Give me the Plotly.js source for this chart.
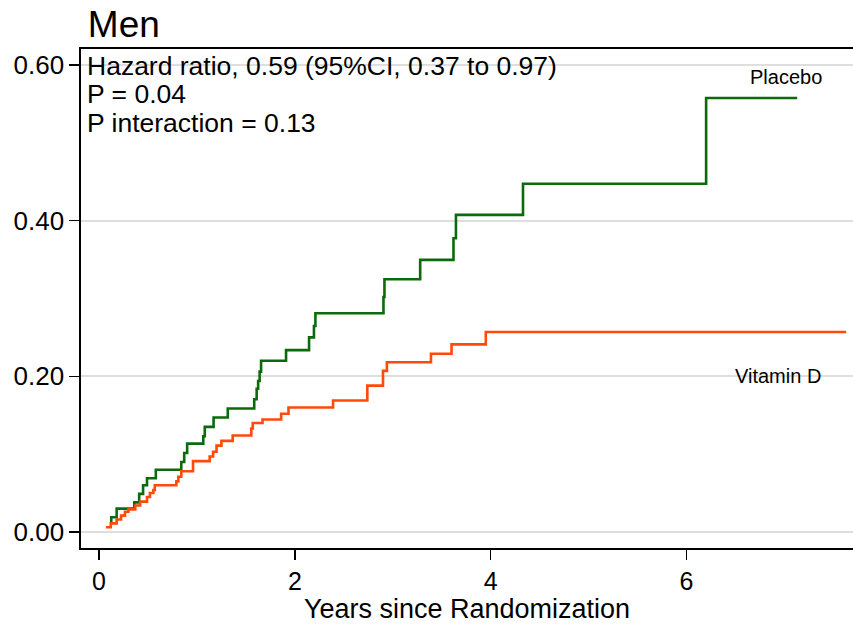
<!DOCTYPE html>
<html>
<head>
<meta charset="utf-8">
<script src="https://cdn.plot.ly/plotly-3.0.1.min.js"></script>
<style>html,body{margin:0;padding:0;background:#fff;}#chart{width:853px;height:624px;}</style>
</head>
<body>
<div id="chart"></div>
<script>
// Placebo cumulative incidence (step times, values)
var placeboYears = [0.12, 0.125, 0.18, 0.36, 0.41, 0.45, 0.49, 0.58, 0.84, 0.87, 0.90, 1.065, 1.08, 1.17, 1.315, 1.585, 1.61, 1.625, 1.64, 1.655, 1.91, 2.145, 2.195, 2.21, 2.905, 2.915, 3.28, 3.62, 3.645, 4.33, 6.20, 7.13];
var placeboRisk  = [0.012, 0.019, 0.030, 0.038, 0.049, 0.060, 0.069, 0.080, 0.090, 0.1015, 0.1135, 0.123, 0.135, 0.147, 0.1586, 0.1706, 0.184, 0.194, 0.206, 0.220, 0.2337, 0.250, 0.2646, 0.281, 0.302, 0.3247, 0.3496, 0.3775, 0.4075, 0.4474, 0.5577, 0.5577];

// Vitamin D cumulative incidence
var vitdYears = [0.07, 0.12, 0.18, 0.225, 0.265, 0.30, 0.37, 0.42, 0.49, 0.52, 0.555, 0.57, 0.79, 0.81, 0.84, 0.96, 1.13, 1.165, 1.20, 1.25, 1.365, 1.555, 1.57, 1.67, 1.86, 1.935, 2.39, 2.74, 2.90, 2.94, 3.39, 3.60, 3.95, 7.63];
var vitdRisk  = [0.006, 0.011, 0.016, 0.021, 0.026, 0.029, 0.034, 0.039, 0.045, 0.050, 0.054, 0.060, 0.065, 0.071, 0.078, 0.091, 0.097, 0.103, 0.111, 0.117, 0.124, 0.133, 0.140, 0.1445, 0.152, 0.160, 0.169, 0.188, 0.207, 0.218, 0.229, 0.241, 0.257, 0.257];

var xTicks = [0, 2, 4, 6];
var yTicks = [0, 0.2, 0.4, 0.6];
var yTickText = ["0.00", "0.20", "0.40", "0.60"];

var statLines = ["Hazard ratio, 0.59 (95%CI, 0.37 to 0.97)", "P = 0.04", "P interaction = 0.13"];

var FONT = "Liberation Sans, Arial, Helvetica, sans-serif";

var traces = [
  {x: placeboYears, y: placeboRisk, type: "scatter", mode: "lines", name: "Placebo",
   line: {shape: "hv", color: "#0b6a0b", width: 2.6}},
  {x: vitdYears, y: vitdRisk, type: "scatter", mode: "lines", name: "Vitamin D",
   line: {shape: "hv", color: "#ff4a0a", width: 2.6}}
];

var statY = [0.965, 0.909, 0.852];
var annotations = statLines.map(function (t, i) {
  return {text: t, xref: "paper", yref: "paper", x: 0.005, y: statY[i],
          xanchor: "left", yanchor: "middle", showarrow: false,
          font: {family: FONT, size: 26.5, color: "#000"}};
});
annotations.push({text: "Placebo", xref: "x", yref: "y", x: 7.02, y: 0.584,
  xanchor: "center", yanchor: "middle", showarrow: false, font: {family: FONT, size: 20, color: "#000"}});
annotations.push({text: "Vitamin D", xref: "x", yref: "y", x: 6.93, y: 0.2,
  xanchor: "center", yanchor: "middle", showarrow: false, font: {family: FONT, size: 20, color: "#000"}});

var layout = {
  width: 853, height: 624,
  margin: {l: 81, r: 0, t: 49, b: 76, pad: 0},
  paper_bgcolor: "#fff", plot_bgcolor: "#fff",
  showlegend: false,
  font: {family: FONT, color: "#000"},
  title: {text: "Men", xref: "container", yref: "container", x: 0.103, xanchor: "left",
          y: 1 - 24 / 624, yanchor: "middle", font: {family: FONT, size: 37, color: "#000"}},
  xaxis: {
    range: [-0.184, 7.70], tickvals: xTicks, ticktext: xTicks.map(String),
    ticks: "outside", ticklen: 10, tickwidth: 1.5, tickcolor: "#000",
    showline: true, linecolor: "#000", linewidth: 1.6, mirror: true,
    showgrid: false, zeroline: false,
    tickfont: {family: FONT, size: 25, color: "#000"},
    title: {text: "Years since Randomization", font: {family: FONT, size: 27, color: "#000"}, standoff: 0}
  },
  yaxis: {
    range: [-0.0206, 0.6206], tickvals: yTicks, ticktext: yTickText,
    ticks: "outside", ticklen: 10, tickwidth: 1.5, tickcolor: "#000",
    showline: true, linecolor: "#000", linewidth: 1.6,
    showgrid: true, gridcolor: "#dedede", gridwidth: 2, zeroline: false,
    tickfont: {family: FONT, size: 26, color: "#000"}
  },
  annotations: annotations
};

Plotly.newPlot("chart", traces, layout, {displayModeBar: false, staticPlot: true});
</script>
</body>
</html>
